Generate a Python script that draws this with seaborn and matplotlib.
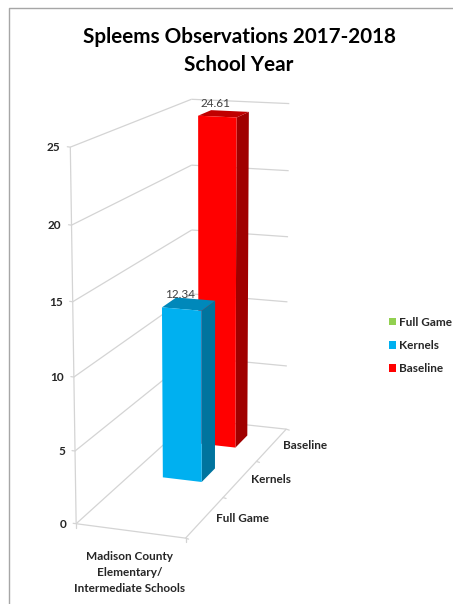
import numpy as np
import pandas as pd
import matplotlib
matplotlib.use("Agg")
import matplotlib.pyplot as plt
import seaborn as sns
from matplotlib.patches import Patch, Polygon, Rectangle
from matplotlib.transforms import Transform

# Chart values
series_names = ["Full Game", "Kernels", "Baseline"]
series_values = [np.nan, 12.34, 24.61]
value_labels = ["", "12.34", "24.61"]
group_lines = ["Madison County", "Elementary/", "Intermediate Schools"]
value_ticks = [0, 5, 10, 15, 20, 25]
title_lines = ["Spleems Observations 2017-2018", "School Year"]

# Colours for each series: front, side and top faces
front_colors = ["#92D050", "#00B0F0", "#FF0000"]
side_colors = ["#6C9A3B", "#00749E", "#A00000"]
top_colors = ["#7DB244", "#0088BA", "#C00000"]
grid_color = "#D4D4D4"
text_color = "#262626"

sns.set_theme(style="white")
plt.rcParams["font.family"] = ["Lato", "DejaVu Sans"]


def fit_view():
    """Fit a perspective camera from the chart box corners to figure pixels."""
    # (across, depth, value) -> (pixel x, pixel y)
    anchors = [
        ((0, 0, 0), (77, 523)),
        ((1, 0, 0), (185, 539)),
        ((0, 3, 0), (191, 420)),
        ((1, 3, 0), (287, 428)),
        ((0, 0, 25), (70, 147)),
        ((0, 3, 25), (192, 99)),
        ((1, 3, 25), (289, 104)),
    ]
    rows, rhs = [], []
    for (a, d, v), (px, py) in anchors:
        rows.append([a, d, v, 1, 0, 0, 0, 0, -px * a, -px * d, -px * v])
        rhs.append(px)
        rows.append([0, 0, 0, 0, a, d, v, 1, -py * a, -py * d, -py * v])
        rhs.append(py)
    sol = np.linalg.lstsq(np.array(rows, float), np.array(rhs, float), rcond=None)[0]
    return np.append(sol, 1.0).reshape(3, 4)


VIEW = fit_view()


def project(a, d, v):
    p = VIEW @ np.array([a, d, v, 1.0])
    return p[0] / p[2], p[1] / p[2]


class BarFaceTransform(Transform):
    """Maps (category position, value) of a bar onto its front face."""
    input_dims = output_dims = 2

    def __init__(self, slot, front_depth):
        super().__init__()
        self.slot = slot
        self.front_depth = front_depth

    def transform_non_affine(self, values):
        values = np.asarray(values, float)
        return np.array([project(x - self.slot + 0.5, self.front_depth, v) for x, v in values])


fig = plt.figure(figsize=(4.53, 6.04), dpi=100, facecolor="white")
canvas = fig.add_axes([0, 0, 1, 1])
canvas.set_xlim(0, 453)
canvas.set_ylim(604, 0)
canvas.axis("off")

# Chart frame: left and top edges only
canvas.plot([9.3, 9.3, 453], [604, 8.3, 8.3], color="#A6A6A6", lw=1.0, zorder=1)


def edge(p, q, lw=0.9):
    canvas.plot(*zip(project(*p), project(*q)), color=grid_color, lw=lw, zorder=2,
                solid_capstyle="butt")


# Gridlines on the two walls, then the floor outline
for tick in value_ticks:
    edge((0, 0, tick), (0, 3, tick))
    edge((0, 3, tick), (1, 3, tick))
    x, y = project(0, 0, tick)
    canvas.plot([x - 3, x], [y - 0.4, y], color=grid_color, lw=0.9, zorder=2)
    canvas.text(x - 10, y + 0.5, str(tick), ha="right", va="center", fontsize=8.5,
                fontweight="bold", color=text_color)
edge((0, 0, 0), (0, 0, 25))
edge((0, 0, 0), (1, 0, 0))
edge((1, 0, 0), (1, 3, 0))

# Tick marks along the depth edge and below the front corner
for depth in range(4):
    x, y = project(1, depth, 0)
    canvas.plot([x, x + 3], [y, y + 1], color=grid_color, lw=0.9, zorder=2)
for across in (0, 1):
    x, y = project(across, 0, 0)
    canvas.plot([x, x], [y, y + 4], color=grid_color, lw=0.9, zorder=2)

# Seaborn lays out the bars by category and value in a helper axes
bar_frame = pd.DataFrame({"series": series_names, "value": series_values})
helper = fig.add_axes([0, 0, 1, 1], facecolor="none")
sns.barplot(data=bar_frame, x="series", y="value", hue="series", order=series_names,
            hue_order=series_names, palette=front_colors, width=0.38, dodge=False,
            saturation=1, legend=False, ax=helper)
helper.set_axis_off()

# Extrude each bar back through the depth of its slot; rear bars are painted first
bars = [p for p in helper.patches if isinstance(p, Rectangle) and np.isfinite(p.get_height())
        and p.get_height() > 0]
bars.sort(key=lambda p: -p.get_x())
for rect in bars:
    left, width, height = rect.get_x(), rect.get_width(), rect.get_height()
    slot = int(round(left + width / 2))
    gap = (1 - width) / 2
    d0, d1 = slot + gap, slot + 1 - gap
    a0, a1 = left - slot + 0.5, left + width - slot + 0.5
    order = 20 - slot * 5
    canvas.add_patch(Polygon(
        [project(a1, d0, 0), project(a1, d1, 0), project(a1, d1, height), project(a1, d0, height)],
        facecolor=side_colors[slot], edgecolor="none", zorder=order))
    canvas.add_patch(Polygon(
        [project(a0, d0, height), project(a1, d0, height), project(a1, d1, height), project(a0, d1, height)],
        facecolor=top_colors[slot], edgecolor="none", zorder=order))
    rect.remove()
    rect.set_transform(BarFaceTransform(slot, d0) + canvas.transData)
    rect.set_edgecolor("none")
    rect.set_linewidth(0)
    rect.set_clip_on(False)
    rect.set_zorder(order + 1)
    canvas.add_artist(rect)
    lx, ly = project(0.5, d0 + (d1 - d0) * 0.5, height)
    canvas.text(lx - 8.5, ly - 10, value_labels[slot], ha="center", va="center", fontsize=8.5,
                color="#404040", zorder=40)

# Category labels along the depth edge
for slot, name in enumerate(series_names):
    x, y = project(1, slot + 0.5, 0)
    canvas.text(x + 11, y + 1, name, ha="left", va="center", fontsize=8.5,
                fontweight="bold", color=text_color)

# Group label under the front edge
for line, y in zip(group_lines, (556, 573, 589)):
    canvas.text(130, y, line, ha="center", va="center", fontsize=8.5,
                fontweight="bold", color=text_color)

for line, y in zip(title_lines, (37, 65)):
    canvas.text(239, y, line, ha="center", va="center", fontsize=14.9, fontweight="bold",
                color="black")

# Legend on the right
handles = [Patch(facecolor=c, edgecolor="none", label=n) for c, n in zip(front_colors, series_names)]
legend = canvas.legend(handles=handles, loc="center left", bbox_to_anchor=(389 / 453, 1 - 345.5 / 604),
                       frameon=False, fontsize=8.5, handlelength=0.6, handleheight=0.6,
                       handletextpad=0.28, labelspacing=1.05, borderpad=0, borderaxespad=0)
for label in legend.get_texts():
    label.set_fontweight("bold")
    label.set_color(text_color)

fig.savefig("out.png", dpi=100, facecolor="white")
